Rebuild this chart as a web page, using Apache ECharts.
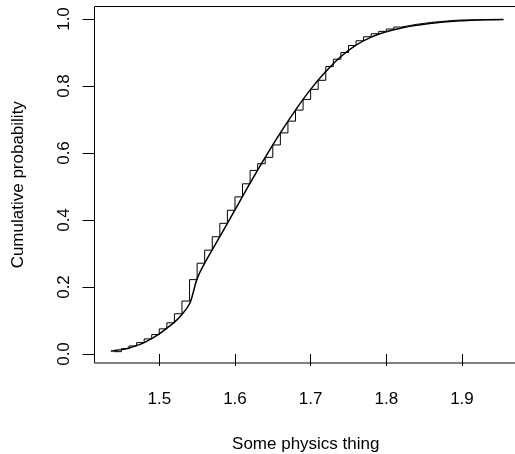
<!DOCTYPE html>
<html><head><meta charset="utf-8">
<script src="https://cdn.jsdelivr.net/npm/echarts@6/dist/echarts.min.js"></script>
<style>html,body{margin:0;padding:0;background:#fff}#c{width:515px;height:454px}</style>
</head><body><div id="c"></div>
<script>
// Staircase (cumulative histogram, bin width 0.01): left edges and levels
const stepX = [1.44,1.45,1.46,1.47,1.48,1.49,1.50,1.51,1.52,1.53,1.54,1.55,1.56,1.57,1.58,1.59,1.60,1.61,1.62,1.63,1.64,1.65,1.66,1.67,1.68,1.69,1.70,1.71,1.72,1.73,1.74,1.75,1.76,1.77,1.78,1.79,1.80,1.81,1.82,1.83,1.84,1.85,1.86,1.87,1.88,1.89,1.90,1.95];
const stepY = [0.007,0.016,0.024,0.034,0.045,0.058,0.075,0.093,0.120,0.158,0.222,0.271,0.310,0.350,0.390,0.429,0.469,0.508,0.548,0.568,0.587,0.624,0.660,0.695,0.728,0.760,0.790,0.817,0.858,0.880,0.900,0.921,0.935,0.947,0.956,0.963,0.970,0.976,0.980,0.984,0.987,0.990,0.992,0.994,0.996,0.997,0.998,1.000];
// Smooth CDF curve
const curveX = [1.436,1.44,1.45,1.46,1.47,1.48,1.49,1.50,1.51,1.52,1.53,1.54,1.545,1.55,1.56,1.58,1.60,1.62,1.64,1.66,1.68,1.70,1.72,1.74,1.76,1.78,1.80,1.82,1.84,1.86,1.88,1.90,1.93,1.955];
const curveY = [0.009,0.010,0.013,0.018,0.025,0.034,0.046,0.060,0.077,0.095,0.118,0.150,0.185,0.225,0.271,0.350,0.430,0.510,0.587,0.660,0.728,0.790,0.843,0.888,0.922,0.946,0.962,0.973,0.981,0.987,0.992,0.995,0.998,0.9985];
const xTicks = [1.5,1.6,1.7,1.8,1.9];
const yTicks = [0.0,0.2,0.4,0.6,0.8,1.0];

const stepData = stepX.map((x,i)=>[x,stepY[i]]);
const curveData = curveX.map((x,i)=>[x,curveY[i]]);
const chart = echarts.init(document.getElementById('c'));
chart.setOption({
  animation:false,
  grid:{left:94.5, top:6.5, width:422.5, height:356.5, outerBoundsMode:'none', containLabel:false,
    show:true, borderColor:'#000', borderWidth:1, backgroundColor:'transparent'},
  xAxis:{type:'value', min:1.4144, max:1.9727,
    splitLine:{show:false}, axisLine:{show:false},
    axisTick:{show:true, length:12, customValues:xTicks, lineStyle:{color:'#000'}},
    axisLabel:{customValues:xTicks, fontSize:17, color:'#000', fontFamily:'Liberation Sans', margin:28, formatter:v=>v.toFixed(1)},
    name:'Some physics thing', nameLocation:'middle', nameGap:73,
    nameTextStyle:{fontSize:17, color:'#000', fontFamily:'Liberation Sans'}},
  yAxis:{type:'value', min:-0.0269, max:1.0373,
    splitLine:{show:false}, axisLine:{show:false},
    axisTick:{show:true, length:12, customValues:yTicks, lineStyle:{color:'#000'}},
    axisLabel:{customValues:yTicks, rotate:90, fontSize:17, color:'#000', fontFamily:'Liberation Sans', margin:22, formatter:v=>v.toFixed(1)},
    name:'Cumulative probability', nameLocation:'middle', nameGap:68, nameRotate:90,
    nameTextStyle:{fontSize:17, color:'#000', fontFamily:'Liberation Sans'}},
  series:[
    {type:'line', data:stepData, step:'end', symbol:'none', lineStyle:{color:'#000', width:1}},
    {type:'line', data:curveData, smooth:0.4, symbol:'none', lineStyle:{color:'#000', width:1.5}}
  ]
});
</script></body></html>
